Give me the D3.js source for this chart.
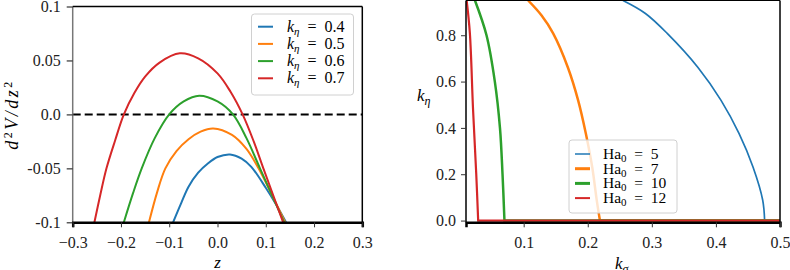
<!DOCTYPE html>
<html>
<head>
<meta charset="utf-8">
<script src="https://cdn.jsdelivr.net/npm/d3@7"></script>
<style>
  body { margin: 0; background: #fff; }
  svg, svg text { font-family: "Liberation Serif", "DejaVu Serif", serif; }
  .tick text { font-family: "Liberation Serif", serif; font-size: 16px; fill: #222; }
</style>
</head>
<body>
<svg id="chart" width="790" height="270"></svg>
<script>
// ---- left panel: d2V/dz2 vs z, one curve per k_eta ----
const etaLabels = ["0.4", "0.5", "0.6", "0.7"];
const curve04 = [[-0.092,-0.1],[-0.075,-0.082],[-0.06,-0.067],[-0.04,-0.054],[-0.02,-0.0455],[0.0,-0.0395],[0.026,-0.0371],[0.05,-0.041],[0.07,-0.0486],[0.1,-0.068],[0.122,-0.084],[0.142,-0.1]];
const curve05 = [[-0.142,-0.1],[-0.125,-0.072],[-0.108,-0.05],[-0.085,-0.034],[-0.06,-0.023],[-0.035,-0.016],[-0.009,-0.013],[0.03,-0.019],[0.06,-0.032],[0.085,-0.05],[0.112,-0.074],[0.14,-0.1]];
const curve06 = [[-0.194,-0.1],[-0.175,-0.073],[-0.157,-0.05],[-0.13,-0.022],[-0.1,0],[-0.07,0.012],[-0.038,0.0173],[0,0.012],[0.032,0],[0.06,-0.022],[0.088,-0.05],[0.138,-0.1]];
const curve07 = [[-0.255,-0.1],[-0.243,-0.075],[-0.23,-0.05],[-0.212,-0.024],[-0.194,0],[-0.172,0.02],[-0.15,0.035],[-0.12,0.048],[-0.078,0.0566],[-0.04,0.052],[0,0.038],[0.027,0.021],[0.052,0],[0.075,-0.025],[0.095,-0.05],[0.136,-0.1]];
const zTicks = [-0.3, -0.2, -0.1, 0.0, 0.1, 0.2, 0.3];
const dTicks = [0.1, 0.05, 0.0, -0.05, -0.1];
const dTickLabels = ["0.1", "0.05", "0.0", "-0.05", "-0.1"];

// ---- right panel: k_eta vs k_sigma, one curve per Ha_0 ----
const haLabels = ["5", "7", "10", "12"];
const ha5 = [[0.255,0.95],[0.29,0.894],[0.324,0.808],[0.372,0.661],[0.408,0.519],[0.436,0.376],[0.458,0.23],[0.473,0.088],[0.476,0],[0.5,0]];
const ha7 = [[0.107,0.95],[0.128,0.885],[0.146,0.808],[0.169,0.661],[0.185,0.519],[0.197,0.376],[0.207,0.23],[0.214,0.088],[0.219,0],[0.5,0]];
const ha10 = [[0.024,0.95],[0.042,0.8],[0.055,0.6],[0.063,0.4],[0.067,0.2],[0.07,0],[0.5,0]];
const ha12 = [[0.011,0.95],[0.016,0.81],[0.021,0.48],[0.026,0.2],[0.029,0],[0.5,0]];
const ksTicks = [0.1, 0.2, 0.3, 0.4, 0.5];
const keTicks = [0.0, 0.2, 0.4, 0.6, 0.8];

const colors = ["#1f77b4", "#ff7f0e", "#2ca02c", "#d62728"];

const svg = d3.select("#chart");

function drawLeft() {
  const m = { left: 72.7, right: 362.3, top: 6.5, bottom: 222.3 };

  const x = d3.scaleLinear().domain([-0.3, 0.3]).range([m.left, m.right]);
  const y = d3.scaleLinear().domain([-0.1, 0.1]).range([m.bottom, m.top]);

  svg.append("clipPath").attr("id", "clipL")
    .append("rect")
      .attr("x", m.left).attr("y", m.top)
      .attr("width", m.right - m.left).attr("height", m.bottom - m.top);

  const g = svg.append("g");

  // dashed zero line
  g.append("line")
    .attr("x1", m.left).attr("x2", m.right)
    .attr("y1", y(0)).attr("y2", y(0))
    .attr("stroke", "#000")
    .attr("stroke-width", 2)
    .attr("stroke-dasharray", "8,4");

  const line = d3.line()
    .x(d => x(d[0]))
    .y(d => y(d[1]))
    .curve(d3.curveCatmullRom.alpha(0.5));

  [curve04, curve05, curve06, curve07].forEach((c, i) => {
    g.append("path")
      .attr("clip-path", "url(#clipL)")
      .attr("d", line(c))
      .attr("fill", "none")
      .attr("stroke", colors[i])
      .attr("stroke-width", 2);
  });

  // spines
  g.append("line").attr("x1", m.left).attr("x2", m.left).attr("y1", m.top).attr("y2", m.bottom)
    .attr("stroke", "#777").attr("stroke-width", 1.5);
  g.append("line").attr("x1", m.left).attr("x2", m.right).attr("y1", m.top).attr("y2", m.top)
    .attr("stroke", "#000").attr("stroke-width", 1.5);
  g.append("line").attr("x1", m.right).attr("x2", m.right).attr("y1", m.top).attr("y2", m.bottom)
    .attr("stroke", "#000").attr("stroke-width", 1.5);

  // axes
  const xAxis = d3.axisBottom(x).tickValues(zTicks).tickSize(5).tickPadding(6)
    .tickFormat(d => d3.format(".1f")(d).replace("-", "\u2212"));
  const xg = svg.append("g")
    .attr("transform", `translate(0,${m.bottom})`)
    .call(xAxis)
    .attr("font-family", null).attr("font-size", null);
  xg.select(".domain").attr("stroke", "#000").attr("stroke-width", 2.5);
  xg.selectAll(".tick line").attr("stroke", "#333").attr("stroke-width", 1);
  xg.selectAll(".tick text").attr("dy", "0.9em");

  const yAxis = d3.axisLeft(y).tickValues(dTicks).tickSize(6).tickPadding(6)
    .tickFormat((d, i) => dTickLabels[i]);
  const yg = svg.append("g")
    .attr("transform", `translate(${m.left},0)`)
    .call(yAxis)
    .attr("font-family", null).attr("font-size", null);
  yg.select(".domain").remove();
  yg.selectAll(".tick line").attr("stroke", "#333").attr("stroke-width", 1.2);

  // axis labels
  svg.append("text")
    .attr("x", (m.left + m.right) / 2).attr("y", 268)
    .attr("text-anchor", "middle")
    .style("font-size", "17px").style("font-style", "italic")
    .text("z");

  const yl = svg.append("text")
    .attr("transform", `translate(18,${(m.top + m.bottom) / 2}) rotate(-90)`)
    .attr("text-anchor", "middle")
    .style("font-size", "18px").style("font-style", "italic")
    .style("letter-spacing", "2.5px");
  yl.append("tspan").text("d");
  yl.append("tspan").attr("dy", -6).style("font-size", "12px").style("font-style", "normal").text("2");
  yl.append("tspan").attr("dy", 6).text("V/dz");
  yl.append("tspan").attr("dy", -6).style("font-size", "12px").style("font-style", "normal").text("2");

  // legend
  const lg = svg.append("g");
  lg.append("rect")
    .attr("x", 251.5).attr("y", 14).attr("width", 102).attr("height", 81)
    .attr("rx", 3)
    .attr("fill", "#fff").attr("fill-opacity", 0.8)
    .attr("stroke", "#d0d0d0");
  etaLabels.forEach((lab, i) => {
    const yy = 26.7 + i * 17.2;
    lg.append("line")
      .attr("x1", 258).attr("x2", 273).attr("y1", yy).attr("y2", yy)
      .attr("stroke", colors[i]).attr("stroke-width", 2);
    const t = lg.append("text")
      .attr("x", 287).attr("y", yy + 5)
      .style("font-size", "16px");
    t.append("tspan").style("font-style", "italic").text("k");
    t.append("tspan").attr("dy", 3).style("font-style", "italic").style("font-size", "11px").text("\u03b7");
    t.append("tspan").attr("dy", -3).text("\u2002=\u2002" + lab);
  });
}

function drawRight() {
  const m = { left: 466, right: 780, top: 0.5, bottom: 222.3 };

  const x = d3.scaleLinear().domain([0.01, 0.5]).range([m.left, m.right]);
  const y = d3.scaleLinear().domain([-0.0075, 0.95]).range([m.bottom, m.top]);

  svg.append("clipPath").attr("id", "clipR")
    .append("rect")
      .attr("x", m.left).attr("y", m.top)
      .attr("width", m.right - m.left).attr("height", m.bottom - m.top);

  const g = svg.append("g");

  const line = d3.line()
    .x(d => x(d[0]))
    .y(d => y(d[1]))
    .curve(d3.curveCatmullRom.alpha(0.5));

  const widths = [1.7, 2.5, 2.5, 2.2];
  [ha5, ha7, ha10, ha12].forEach((c, i) => {
    // curved part down to k_eta = 0, then flat run along zero
    const bend = c.slice(0, -1);
    const end = c[c.length - 1];
    g.append("path")
      .attr("clip-path", "url(#clipR)")
      .attr("d", line(bend) + `L${x(end[0])},${y(end[1])}`)
      .attr("fill", "none")
      .attr("stroke", colors[i])
      .attr("stroke-width", widths[i]);
  });

  // spines
  g.append("line").attr("x1", m.left).attr("x2", m.left).attr("y1", m.top).attr("y2", m.bottom)
    .attr("stroke", "#000").attr("stroke-width", 1.5);
  g.append("line").attr("x1", m.left).attr("x2", m.right).attr("y1", m.top).attr("y2", m.top)
    .attr("stroke", "#000").attr("stroke-width", 1.2);
  g.append("line").attr("x1", m.right).attr("x2", m.right).attr("y1", m.top).attr("y2", m.bottom)
    .attr("stroke", "#000").attr("stroke-width", 1.5);

  const xg = svg.append("g")
    .attr("transform", `translate(0,${m.bottom})`)
    .call(d3.axisBottom(x).tickValues(ksTicks).tickSize(5).tickPadding(6).tickFormat(d3.format(".1f")))
    .attr("font-family", null).attr("font-size", null);
  xg.select(".domain").attr("stroke", "#000").attr("stroke-width", 2.5);
  xg.selectAll(".tick line").attr("stroke", "#333");
  xg.selectAll(".tick text").attr("dy", "0.9em");

  const yg = svg.append("g")
    .attr("transform", `translate(${m.left},0)`)
    .call(d3.axisLeft(y).tickValues(keTicks).tickSize(5).tickPadding(5).tickFormat(d3.format(".1f")))
    .attr("font-family", null).attr("font-size", null);
  yg.select(".domain").remove();
  yg.selectAll(".tick line").attr("stroke", "#333");

  // axis labels
  const xl = svg.append("text")
    .attr("x", 615).attr("y", 269)
    .style("font-size", "17px");
  xl.append("tspan").style("font-style", "italic").text("k");
  xl.append("tspan").attr("dy", 4).style("font-style", "italic").style("font-size", "12px").text("\u03c3");

  const yl = svg.append("text")
    .attr("x", 417).attr("y", 101)
    .style("font-size", "17px");
  yl.append("tspan").style("font-style", "italic").text("k");
  yl.append("tspan").attr("dy", 4).style("font-style", "italic").style("font-size", "12px").text("\u03b7");

  // legend
  const lg = svg.append("g");
  lg.append("rect")
    .attr("x", 569).attr("y", 140).attr("width", 108).attr("height", 73)
    .attr("rx", 3)
    .attr("fill", "#fff").attr("fill-opacity", 0.8)
    .attr("stroke", "#d0d0d0");
  const legW = [1.5, 3, 3, 2];
  haLabels.forEach((lab, i) => {
    const yy = 154 + i * 14.7;
    lg.append("line")
      .attr("x1", 575).attr("x2", 590).attr("y1", yy).attr("y2", yy)
      .attr("stroke", colors[i]).attr("stroke-width", legW[i]);
    const t = lg.append("text")
      .attr("x", 603).attr("y", yy + 5)
      .style("font-size", "15.5px");
    t.append("tspan").text("Ha");
    t.append("tspan").attr("dy", 3).style("font-size", "11px").text("0");
    t.append("tspan").attr("dy", -3).text("\u2002=\u2002" + lab);
  });
}

drawLeft();
drawRight();
</script>
</body>
</html>
